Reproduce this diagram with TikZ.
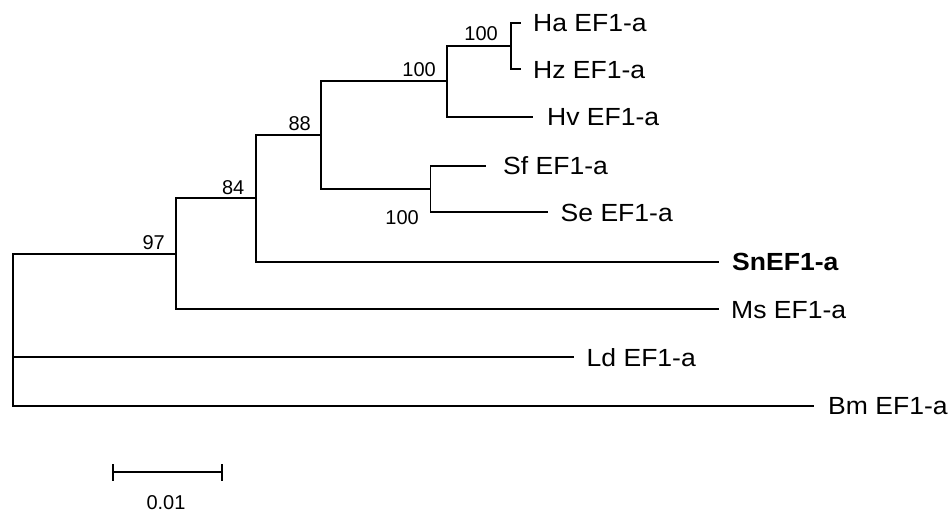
\documentclass[tikz,border=0pt]{standalone}
\usepackage{fontspec}
\setmainfont{Liberation Sans}
\newfontfamily\leaffont{Liberation Sans}[FakeStretch=1.07]
\begin{document}
\begin{tikzpicture}[x=1pt,y=-1pt,
  branch/.style={line width=1.9pt,line cap=rect},
  leaf/.style={anchor=base west,inner sep=0pt,font=\leaffont\fontsize{24.8}{28}\selectfont},
  boot/.style={anchor=base east,inner sep=0pt,font=\fontsize{20}{24}\selectfont}]
\useasboundingbox (0,0) rectangle (950,512);
% internal nodes
\coordinate (root) at (13,330);
\coordinate (n97) at (176,253.7);
\coordinate (n84) at (255.7,198.3);
\coordinate (n88) at (321,135);
\coordinate (nH) at (446.7,80.7);
\coordinate (nHaHz) at (510.7,46);
\coordinate (nS) at (430.5,189);
% tips
\coordinate (tHa) at (520,22.7);
\coordinate (tHz) at (520,69.3);
\coordinate (tHv) at (532,116.7);
\coordinate (tSf) at (485,165.7);
\coordinate (tSe) at (546.7,212.3);
\coordinate (tSn) at (718.3,261.7);
\coordinate (tMs) at (718.3,309.3);
\coordinate (tLd) at (572.7,357.3);
\coordinate (tBm) at (813.3,405.7);
% branches
\draw[branch] (root) |- (n97);
\draw[branch] (root) |- (tLd);
\draw[branch] (root) |- (tBm);
\draw[branch] (n97) |- (n84);
\draw[branch] (n97) |- (tMs);
\draw[branch] (n84) |- (n88);
\draw[branch] (n84) |- (tSn);
\draw[branch] (n88) |- (nH);
\draw[branch] (n88) |- (nS);
\draw[branch] (nH) |- (nHaHz);
\draw[branch] (nH) |- (tHv);
\draw[branch] (nHaHz) |- (tHa);
\draw[branch] (nHaHz) |- (tHz);
\draw[branch] (nS) |- (tSf);
\draw[branch] (nS) |- (tSe);
% leaf labels
\node[leaf] (lHa) at (533,31.5) {Ha EF1-a};
\node[leaf] (lHz) at (533,78) {Hz EF1-a};
\node[leaf] (lHv) at (547,125.3) {Hv EF1-a};
\node[leaf] (lSf) at (503,174.3) {Sf EF1-a};
\node[leaf] (lSe) at (560.5,221) {Se EF1-a};
\node[leaf] (lSn) at (732,270.3) {\bfseries SnEF1-a};
\node[leaf] (lMs) at (731,318) {Ms EF1-a};
\node[leaf] (lLd) at (586.5,366) {Ld EF1-a};
\node[leaf] (lBm) at (828,414.3) {Bm EF1-a};
% bootstrap values
\node[boot] (b1) at (498,40.5) {100};
\node[boot] (b2) at (436,76.5) {100};
\node[boot] (b3) at (311,130.7) {88};
\node[boot] (b4) at (419,224.3) {100};
\node[boot] (b5) at (244.5,194) {84};
\node[boot] (b6) at (165,249) {97};
% scale bar
\coordinate (sL) at (112.7,472.3);
\coordinate (sR) at (222.3,472.3);
\draw[branch,line cap=butt] (sL) -- (sR);
\draw[branch,line cap=butt] ([yshift=-8.5pt]sL) -- ([yshift=8.5pt]sL);
\draw[branch,line cap=butt] ([yshift=-8.5pt]sR) -- ([yshift=8.5pt]sR);
\node[anchor=base,inner sep=0pt,font=\fontsize{20}{24}\selectfont] (sc) at (166,509) {0.01};
\end{tikzpicture}
\end{document}
